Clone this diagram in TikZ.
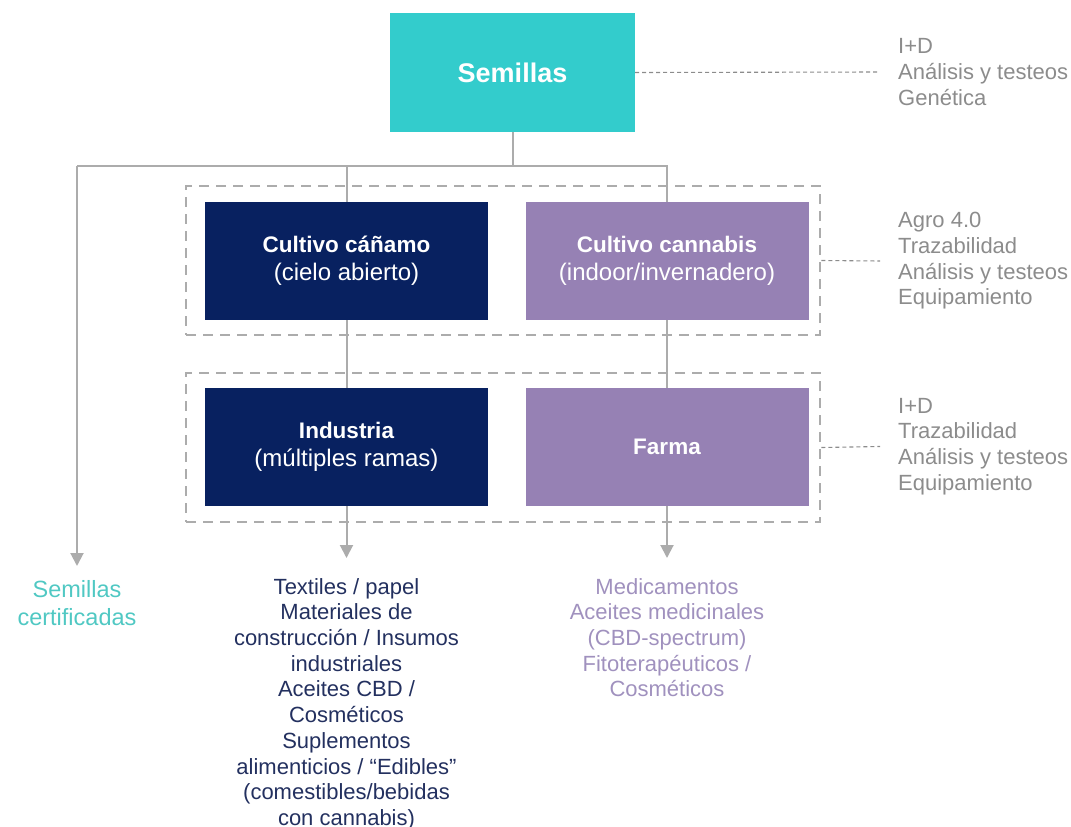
\documentclass[tikz,border=0pt]{standalone}
\usepackage{fontspec}
\setmainfont{Liberation Sans}
\usetikzlibrary{arrows.meta,positioning}

\definecolor{turquesa}{RGB}{51,204,204}
\definecolor{marino}{RGB}{8,33,96}
\definecolor{lila}{RGB}{150,129,180}
\definecolor{gris}{RGB}{140,140,140}
\definecolor{linea}{RGB}{172,172,172}
\definecolor{txtmarino}{RGB}{35,48,95}
\definecolor{txtlila}{RGB}{160,145,190}
\definecolor{txtturq}{RGB}{80,200,195}

\tikzset{
  caja/.style={minimum width=283pt, minimum height=118pt, inner sep=0pt, align=center, text=white,
               font=\fontsize{24}{28}\selectfont},
  grupo/.style={draw=linea, line width=2.6pt, dash pattern=on 10pt off 7pt, minimum width=634pt, minimum height=149pt, inner sep=0pt},
  nota/.style={text=gris, align=left, anchor=west, font=\fontsize{22}{25.7}\selectfont, inner xsep=18pt},
  guia/.style={draw=gris, line width=1.1pt, dash pattern=on 4pt off 3pt},
  rama/.style={draw=linea, line width=2pt},
  flecha/.style={rama, -{Triangle[length=13pt,width=13pt]}},
  salida/.style={align=center, inner sep=0pt, font=\fontsize{22}{25.7}\selectfont},
}
\newcommand{\titulo}[1]{{\fontsize{22.5}{28}\selectfont\bfseries #1}}

\begin{document}
\begin{tikzpicture}[x=1pt, y=-1pt]
  \useasboundingbox (0,0) rectangle (1071,827);

  % cajas con guiones (etapas)
  \node[grupo] (grpA) at (503,260.5) {};
  \node[grupo] (grpB) at (503,447.5) {};

  % cajas principales
  \node[caja, fill=turquesa, minimum width=245pt, minimum height=119pt,
        font=\fontsize{27}{30}\selectfont\bfseries] (sem) at (512.5,72.5) {Semillas};
  \node[caja, fill=marino] (canamo)   at (346.5,261) {\titulo{Cultivo cáñamo}\\(cielo abierto)};
  \node[caja, fill=lila]   (cannabis) at (667,261)   {\titulo{Cultivo cannabis}\\(indoor/invernadero)};
  \node[caja, fill=marino] (industria) at (346.5,447) {\titulo{Industria}\\(múltiples ramas)};
  \node[caja, fill=lila]   (farma)     at (667,447)   {\titulo{Farma}};

  % notas de la derecha
  \node[nota] (notaSem)  at (880,72)    {I+D\\Análisis y testeos\\Genética};
  \node[nota] (notaCult) at (880,261)   {Agro 4.0\\Trazabilidad\\Análisis y testeos\\Equipamiento};
  \node[nota] (notaProc) at (880,446.5) {I+D\\Trazabilidad\\Análisis y testeos\\Equipamiento};
  \draw[guia] (sem.east) -- (notaSem.west);
  \draw[guia] (grpA.east) -- (notaCult.west);
  \draw[guia] (grpB.east) -- (notaProc.west);

  % ramas del árbol
  \coordinate (izq) at (77,166);
  \draw[rama] (sem.south) |- (izq);
  \draw[rama] (izq) -- (cannabis.north |- izq) -- (cannabis.north);
  \draw[rama] (canamo.north |- izq) -- (canamo.north);
  \draw[rama] (canamo.south) -- (industria.north);
  \draw[rama] (cannabis.south) -- (farma.north);

  % puntas de flecha y salidas
  \coordinate (puntaSem) at (77,566);
  \coordinate (puntaInd) at (346.5,558);
  \coordinate (puntaFar) at (667,558);
  \draw[flecha] (izq) -- (puntaSem);
  \draw[flecha] (industria.south) -- (puntaInd);
  \draw[flecha] (farma.south) -- (puntaFar);

  \node[salida, text=txtturq, font=\fontsize{23.5}{28}\selectfont, below=14pt of puntaSem] (outSem)
    {Semillas\\certificadas};
  \node[salida, text=txtmarino, below=20pt of puntaInd] (outInd)
    {Textiles / papel\\Materiales de\\construcción / Insumos\\industriales\\Aceites CBD /\\Cosméticos\\Suplementos\\alimenticios / “Edibles”\\(comestibles/bebidas\\con cannabis)};
  \node[salida, text=txtlila, below=20pt of puntaFar] (outFar)
    {Medicamentos\\Aceites medicinales\\(CBD-spectrum)\\Fitoterapéuticos /\\Cosméticos};
\end{tikzpicture}
\end{document}
